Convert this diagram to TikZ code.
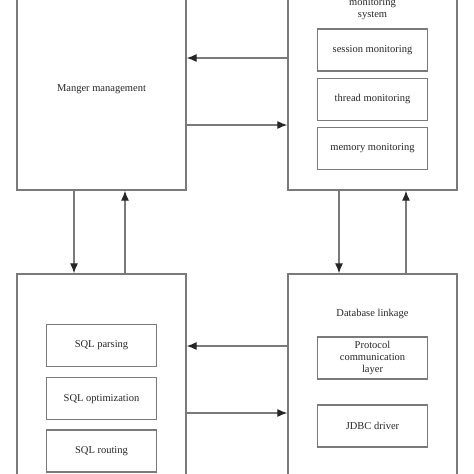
\documentclass[tikz,border=0pt]{standalone}
\usepackage{fontspec}
\setmainfont{Liberation Serif}
\usetikzlibrary{positioning,arrows.meta}
\definecolor{linegray}{HTML}{7A7A7A}
\definecolor{textgray}{HTML}{262626}

\tikzset{
	outerbox/.style={draw=linegray, line width=1.3pt, minimum width=169pt, inner sep=0pt},
	innerbox/.style={draw=linegray, line width=1.2pt, minimum width=110pt, minimum height=42pt, align=center, inner sep=1pt},
	arr/.style={draw=linegray, line width=1.2pt, -{Latex[length=10pt,width=8pt,color=black!85]}},
	txt/.style={text=textgray, font=\fontsize{10.5}{12}\selectfont}
}

\begin{document}
\begin{tikzpicture}[x=1pt, y=-1pt, every node/.style={txt}, node distance=6pt]
	\useasboundingbox (0,0) rectangle (474,474);
	\clip (0,0) rectangle (474,474);
	% outer boxes
	\node[outerbox, minimum height=202pt] (mgr) at (101.5,89) {Manger management};
	\node[outerbox, minimum height=202pt] (mon) at (372.5,89) {};
	\node[outerbox, minimum height=246pt] (sql) at (101.5,397) {};
	\node[outerbox, minimum height=246pt] (db) at (372.5,397) {};
	% monitoring system
	\node[align=center] (montitle) at (372.5,9) {monitoring\\system};
	\node[innerbox] (session) at (372.5,50) {session monitoring};
	\node[innerbox, below=of session] (thread) {thread monitoring};
	\node[innerbox, below=of thread] (memory) {memory monitoring};
	% sql
	\node[innerbox] (parsing) at (101.5,345.5) {SQL parsing};
	\node[innerbox, below=10pt of parsing] (optim) {SQL optimization};
	\node[innerbox, below=9pt of optim] (routing) {SQL routing};
	% database linkage
	\node (dbtitle) at (372.5,314) {Database linkage};
	\node[innerbox] (protocol) at (372.5,358) {Protocol\\communication\\layer};
	\node[innerbox] (jdbc) at (372.5,426) {JDBC driver};
	% connectors
	\coordinate (ya) at (0,58);
	\coordinate (yb) at (0,125);
	\coordinate (yc) at (0,346);
	\coordinate (yd) at (0,413);
	\coordinate (xa) at (74,0);
	\coordinate (xb) at (125,0);
	\coordinate (xc) at (339,0);
	\coordinate (xd) at (406,0);
	\draw[arr] (mon.west |- ya) -- (mgr.east |- ya);
	\draw[arr] (mgr.east |- yb) -- (mon.west |- yb);
	\draw[arr] (db.west |- yc) -- (sql.east |- yc);
	\draw[arr] (sql.east |- yd) -- (db.west |- yd);
	\draw[arr] (xa |- mgr.south) -- (xa |- sql.north);
	\draw[arr] (xb |- sql.north) -- (xb |- mgr.south);
	\draw[arr] (xc |- mon.south) -- (xc |- db.north);
	\draw[arr] (xd |- db.north) -- (xd |- mon.south);
\end{tikzpicture}
\end{document}
